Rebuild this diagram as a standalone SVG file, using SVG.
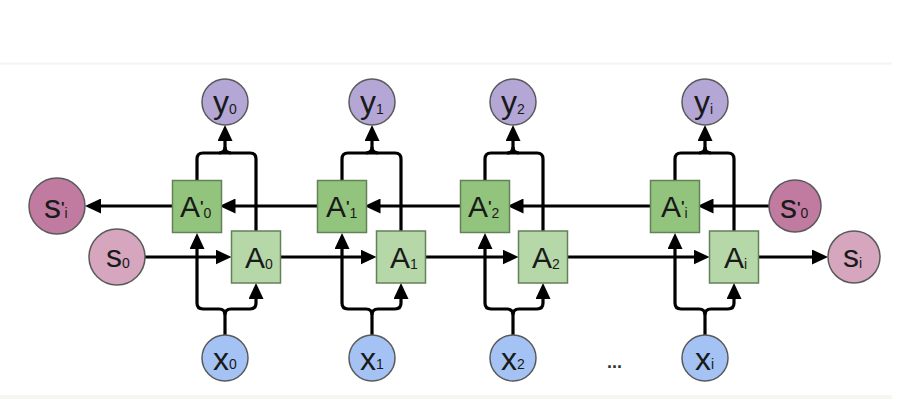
<svg xmlns="http://www.w3.org/2000/svg" width="916" height="411" viewBox="0 0 916 411">
<style>
.ln{fill:none;stroke:#000;stroke-width:3.2;stroke-linejoin:round}
.ar{marker-end:url(#ah)}
.bx{stroke:#64805a;stroke-width:1.5}
.bd{fill:#93c47d}
.bl{fill:#b6d7a8}
.ci{stroke:#5a5a5a;stroke-width:1.5}
.cy{fill:#b4a7d6}
.cx{fill:#a4c2f4}
.cs{fill:#c27ba0}
.cp{fill:#d5a6bd}
text{font-family:"Liberation Sans",Arial,sans-serif;fill:#1a1a1a}
.big{font-size:30px}
.cl{font-size:32px}
.sl{font-size:34px}
.sb{font-size:14px}
.pr{font-size:15px;font-weight:bold}
</style>
<defs>
<marker id="ah" viewBox="0 0 16 15" refX="1" refY="7.5" markerWidth="16" markerHeight="15" markerUnits="userSpaceOnUse" orient="auto"><path d="M0,0 L16,7.5 L0,15 z" fill="#000"/></marker>
</defs>
<rect x="0" y="62.5" width="892" height="2" fill="#f4f4f4"/>
<rect x="0" y="395" width="892" height="4" fill="#f7f7f2"/>
<g id="connectors">
<path class="ln ar" d="M769,206 H712.5"/>
<path class="ln ar" d="M650.5,206 H522.5"/>
<path class="ln ar" d="M460.5,206 H379.5"/>
<path class="ln ar" d="M317.5,206 H234.5"/>
<path class="ln ar" d="M172.5,206 H100"/>
<path class="ln ar" d="M145,257 H216.5"/>
<path class="ln ar" d="M280.5,257 H361.5"/>
<path class="ln ar" d="M425.5,257 H503.5"/>
<path class="ln ar" d="M567.5,257 H694.5"/>
<path class="ln ar" d="M758.5,257 H813"/>
<path class="ln" d="M197,181 V159 Q197,153 203,153 H250 Q256,153 256,159 V231"/>
<path class="ln ar" d="M219,153 Q225,153 225,147 V140"/>
<path class="ln" d="M231,153 Q225,153 225,147"/>
<path class="ln ar" d="M225,335 V315 Q225,309 219,309 H203 Q197,309 197,303 V248"/>
<path class="ln ar" d="M225,315 Q225,309 231,309 H250 Q256,309 256,303 V298"/>
<path class="ln" d="M342,181 V159 Q342,153 348,153 H395 Q401,153 401,159 V231"/>
<path class="ln ar" d="M366,153 Q372,153 372,147 V140"/>
<path class="ln" d="M378,153 Q372,153 372,147"/>
<path class="ln ar" d="M372,335 V315 Q372,309 366,309 H348 Q342,309 342,303 V248"/>
<path class="ln ar" d="M372,315 Q372,309 378,309 H395 Q401,309 401,303 V298"/>
<path class="ln" d="M485,181 V159 Q485,153 491,153 H537 Q543,153 543,159 V231"/>
<path class="ln ar" d="M507,153 Q513,153 513,147 V140"/>
<path class="ln" d="M519,153 Q513,153 513,147"/>
<path class="ln ar" d="M513,335 V315 Q513,309 507,309 H491 Q485,309 485,303 V248"/>
<path class="ln ar" d="M513,315 Q513,309 519,309 H537 Q543,309 543,303 V298"/>
<path class="ln" d="M675,181 V159 Q675,153 681,153 H728 Q734,153 734,159 V231"/>
<path class="ln ar" d="M699,153 Q705,153 705,147 V140"/>
<path class="ln" d="M711,153 Q705,153 705,147"/>
<path class="ln ar" d="M705,335 V315 Q705,309 699,309 H681 Q675,309 675,303 V248"/>
<path class="ln ar" d="M705,315 Q705,309 711,309 H728 Q734,309 734,303 V298"/>
</g>
<g id="y0"><circle class="ci cy" cx="225" cy="102" r="23"/><text class="cl" x="213" y="113">y<tspan class="sb" dy="1">0</tspan></text></g>
<g id="y1"><circle class="ci cy" cx="372" cy="102" r="23"/><text class="cl" x="360" y="113">y<tspan class="sb" dy="1">1</tspan></text></g>
<g id="y2"><circle class="ci cy" cx="513" cy="102" r="23"/><text class="cl" x="501" y="113">y<tspan class="sb" dy="1">2</tspan></text></g>
<g id="yi"><circle class="ci cy" cx="705" cy="102" r="23"/><text class="cl" x="694" y="113">y<tspan class="sb" dy="1">i</tspan></text></g>
<g id="x0"><circle class="ci cx" cx="225" cy="358" r="23"/><text class="cl" x="213" y="370">x<tspan class="sb" dy="-1">0</tspan></text></g>
<g id="x1"><circle class="ci cx" cx="372" cy="358" r="23"/><text class="cl" x="360" y="370">x<tspan class="sb" dy="-1">1</tspan></text></g>
<g id="x2"><circle class="ci cx" cx="513" cy="358" r="23"/><text class="cl" x="501" y="370">x<tspan class="sb" dy="-1">2</tspan></text></g>
<g id="xi"><circle class="ci cx" cx="705" cy="358" r="23"/><text class="cl" x="695" y="370">x<tspan class="sb" dy="-1">i</tspan></text></g>
<g id="s_i_prime"><circle class="ci cs" cx="57" cy="206" r="28"/><text class="sl" x="44" y="218">s<tspan class="pr" dy="-6">'</tspan><tspan class="sb" dy="6">i</tspan></text></g>
<g id="s_0_prime"><circle class="ci cs" cx="795" cy="206" r="26"/><text class="sl" x="780" y="218">s<tspan class="pr" dy="-6">'</tspan><tspan class="sb" dy="6">0</tspan></text></g>
<g id="s0"><circle class="ci cp" cx="117" cy="257" r="28"/><text class="cl" x="106" y="267">s<tspan class="sb" dy="1">0</tspan></text></g>
<g id="si"><circle class="ci cp" cx="854" cy="257" r="26"/><text class="cl" x="843" y="267">s<tspan class="sb" dy="1">i</tspan></text></g>
<g id="Ap0"><rect class="bx bd" x="172.5" y="180.5" width="49" height="52"/><text class="big" x="180" y="217">A<tspan class="pr" dy="-6">'</tspan><tspan class="sb" dy="7">0</tspan></text></g>
<g id="Ap1"><rect class="bx bd" x="317.5" y="180.5" width="49" height="52"/><text class="big" x="326" y="217">A<tspan class="pr" dy="-6">'</tspan><tspan class="sb" dy="7">1</tspan></text></g>
<g id="Ap2"><rect class="bx bd" x="460.5" y="180.5" width="49" height="52"/><text class="big" x="468" y="217">A<tspan class="pr" dy="-6">'</tspan><tspan class="sb" dy="7">2</tspan></text></g>
<g id="Api"><rect class="bx bd" x="650.5" y="180.5" width="49" height="52"/><text class="big" x="661" y="217">A<tspan class="pr" dy="-6">'</tspan><tspan class="sb" dy="7">i</tspan></text></g>
<g id="A0"><rect class="bx bl" x="231.5" y="231" width="49" height="52"/><text class="big" x="245" y="268">A<tspan class="sb" dy="1">0</tspan></text></g>
<g id="A1"><rect class="bx bl" x="376.5" y="231" width="49" height="52"/><text class="big" x="390" y="268">A<tspan class="sb" dy="1">1</tspan></text></g>
<g id="A2"><rect class="bx bl" x="518.5" y="231" width="49" height="52"/><text class="big" x="532" y="268">A<tspan class="sb" dy="1">2</tspan></text></g>
<g id="Ai"><rect class="bx bl" x="709.5" y="231" width="49" height="52"/><text class="big" x="724" y="268">A<tspan class="sb" dy="1">i</tspan></text></g>
<text x="607" y="368" style="font-size:18px;font-weight:bold;fill:#333">...</text>
</svg>
